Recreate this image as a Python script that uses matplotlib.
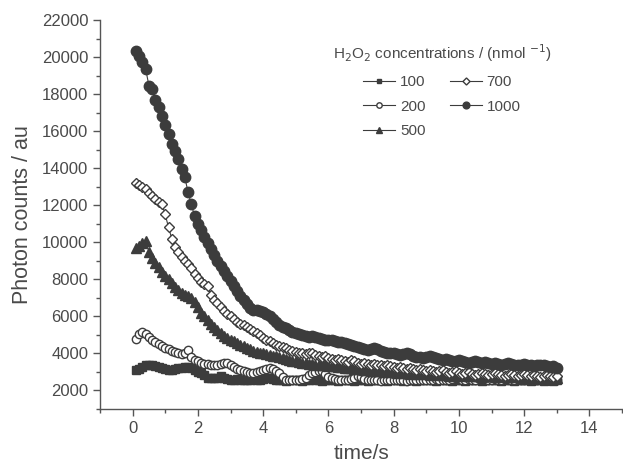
import numpy as np
import matplotlib
matplotlib.use("Agg")
import matplotlib.pyplot as plt

plt.rcParams['font.family'] = ['Liberation Sans', 'DejaVu Sans']

time_s = np.round(np.arange(1, 131) * 0.1, 1)

c100 = [3100, 3150, 3250, 3350, 3400, 3400, 3300, 3250, 3200, 3150,
        3100, 3100, 3150, 3200, 3200, 3250, 3250, 3200, 3100, 3000,
        2950, 2850, 2700, 2650, 2650, 2700, 2800, 2700, 2600, 2550,
        2550, 2600, 2550, 2550, 2550, 2550, 2600, 2550, 2550, 2600,
        2650, 2650, 2600, 2550, 2550, 2550, 2500, 2550, 2550, 2550,
        2550, 2500, 2550, 2550, 2600, 2550, 2550, 2500, 2550, 2550,
        2550, 2550, 2500, 2550, 2550, 2550, 2550, 2500, 2550, 2550,
        2550, 2500, 2550, 2550, 2550, 2550, 2550, 2500, 2550, 2550,
        2550, 2550, 2500, 2550, 2550, 2550, 2500, 2550, 2550, 2550,
        2550, 2550, 2500, 2550, 2550, 2550, 2550, 2500, 2550, 2550,
        2550, 2500, 2550, 2550, 2550, 2550, 2500, 2550, 2550, 2550,
        2550, 2550, 2500, 2550, 2550, 2550, 2500, 2550, 2550, 2550,
        2550, 2500, 2550, 2550, 2550, 2500, 2550, 2550, 2500, 2550]

c200 = [4800, 5050, 5150, 5050, 4900, 4750, 4600, 4500, 4400, 4300,
        4250, 4150, 4100, 4000, 3950, 4050, 4200, 3800, 3650, 3600,
        3500, 3450, 3450, 3400, 3350, 3400, 3450, 3500, 3500, 3400,
        3250, 3150, 3100, 3050, 3000, 2950, 2950, 3000, 3050, 3100,
        3150, 3200, 3150, 3050, 2950, 2750, 2550, 2550, 2550, 2550,
        2550, 2600, 2700, 2850, 2950, 3000, 3050, 3050, 2900, 2750,
        2700, 2600, 2550, 2550, 2550, 2550, 2600, 2700, 2800, 2750,
        2600, 2550, 2550, 2550, 2550, 2500, 2550, 2550, 2550, 2550,
        2550, 2550, 2550, 2500, 2550, 2550, 2550, 2550, 2550, 2550,
        2550, 2550, 2600, 2550, 2550, 2550, 2550, 2600, 2700, 2650,
        2550, 2550, 2600, 2550, 2550, 2650, 2700, 2600, 2550, 2550,
        2600, 2550, 2550, 2600, 2650, 2550, 2550, 2600, 2550, 2550,
        2600, 2650, 2550, 2550, 2600, 2550, 2550, 2600, 2550, 2550]

c500 = [9700, 9800, 9950, 10050, 9500, 9150, 8900, 8650, 8400, 8200,
        8000, 7800, 7600, 7400, 7250, 7150, 7100, 7000, 6800, 6500,
        6200, 6000, 5800, 5600, 5400, 5250, 5100, 4950, 4850, 4750,
        4650, 4550, 4450, 4400, 4300, 4250, 4150, 4100, 4050, 4000,
        3950, 3900, 3850, 3850, 3800, 3750, 3700, 3650, 3600, 3600,
        3550, 3500, 3500, 3450, 3450, 3400, 3400, 3350, 3350, 3300,
        3300, 3300, 3250, 3250, 3200, 3200, 3200, 3150, 3150, 3150,
        3100, 3100, 3100, 3050, 3050, 3050, 3000, 3000, 3050, 3000,
        2950, 3000, 2950, 2950, 2900, 2950, 2900, 2900, 2950, 2900,
        2850, 2900, 2850, 2900, 2850, 2850, 2800, 2850, 2800, 2850,
        2800, 2850, 2800, 2800, 2850, 2800, 2750, 2800, 2850, 2800,
        2750, 2800, 2750, 2800, 2750, 2750, 2800, 2750, 2700, 2750,
        2800, 2750, 2700, 2750, 2700, 2750, 2700, 2700, 2750, 2700]

c700 = [13200, 13100, 13000, 12850, 12650, 12500, 12350, 12200, 12050, 11500,
        10800, 10200, 9750, 9450, 9200, 9000, 8850, 8600, 8300, 8050,
        7850, 7750, 7650, 7150, 6900, 6700, 6500, 6300, 6150, 6000,
        5850, 5700, 5600, 5550, 5450, 5300, 5200, 5100, 5000, 4850,
        4750, 4650, 4550, 4450, 4400, 4350, 4300, 4200, 4150, 4100,
        4050, 4000, 3950, 4050, 4000, 3900, 3850, 3800, 3850, 3750,
        3700, 3650, 3700, 3650, 3600, 3550, 3650, 3600, 3500, 3450,
        3500, 3450, 3400, 3450, 3400, 3350, 3300, 3350, 3300, 3250,
        3200, 3250, 3200, 3150, 3200, 3150, 3100, 3150, 3100, 3050,
        3100, 3050, 3000, 3050, 3100, 3000, 2950, 3000, 3050, 2950,
        2900, 2950, 3000, 2900, 2850, 2900, 2950, 2900, 2850, 2900,
        2950, 2900, 2850, 2800, 2850, 2900, 2850, 2800, 2850, 2900,
        2850, 2800, 2850, 2800, 2750, 2800, 2850, 2800, 2750, 2800]

c1000 = [20300, 20050, 19750, 19350, 18450, 18250, 17700, 17300, 16800, 16350,
         15850, 15300, 14950, 14500, 13950, 13500, 12700, 12050, 11400, 11000,
         10650, 10300, 9950, 9650, 9300, 9000, 8700, 8450, 8200, 7900,
         7650, 7350, 7100, 6900, 6650, 6450, 6350, 6350, 6300, 6250,
         6150, 6000, 5850, 5700, 5550, 5450, 5350, 5250, 5150, 5100,
         5050, 5000, 4950, 4900, 4950, 4900, 4850, 4800, 4750, 4700,
         4700, 4650, 4600, 4600, 4550, 4500, 4450, 4400, 4350, 4300,
         4250, 4200, 4250, 4300, 4250, 4150, 4100, 4050, 4000, 4000,
         3950, 3900, 3950, 4000, 3950, 3850, 3800, 3800, 3750, 3800,
         3850, 3800, 3750, 3700, 3650, 3700, 3650, 3600, 3600, 3650,
         3600, 3550, 3500, 3550, 3600, 3550, 3500, 3550, 3500, 3450,
         3500, 3450, 3400, 3450, 3500, 3450, 3400, 3350, 3400, 3450,
         3400, 3350, 3300, 3350, 3400, 3350, 3300, 3250, 3300, 3200]

labels = ['100', '200', '500', '700', '1000']
series = [c100, c200, c500, c700, c1000]

dark = '#3c3c3c'
text_c = '#4a4a4a'
styles = [
    dict(marker='s', ms=5.5, mfc=dark, mec=dark),
    dict(marker='o', ms=6.0, mfc='white', mec=dark, mew=1.0),
    dict(marker='^', ms=7.5, mfc=dark, mec=dark),
    dict(marker='D', ms=5.5, mfc='white', mec=dark, mew=1.0),
    dict(marker='o', ms=7.5, mfc=dark, mec=dark),
]

fig = plt.figure(figsize=(6.23, 4.66), dpi=100)
ax = fig.add_axes([100/623, 57/466, 522/623, 389/466])

for lab, vals, st in zip(labels, series, styles):
    ax.plot(time_s, vals, color=dark, lw=0.8, label=lab, **st)

ax.set_xlim(-1, 15)
ax.set_ylim(1000, 22000)
ax.set_xticks(np.arange(0, 15, 2))
ax.set_xticks(np.arange(-1, 16, 1), minor=True)
ax.set_yticks(np.arange(2000, 22001, 2000))
ax.set_yticks(np.arange(1000, 22001, 1000), minor=True)

for side in ['top', 'right']:
    ax.spines[side].set_visible(False)
for side in ['left', 'bottom']:
    ax.spines[side].set_color('#555555')
    ax.spines[side].set_linewidth(1.0)

ax.tick_params(axis='both', which='major', direction='out', length=5,
               color='#555555', labelcolor=text_c, labelsize=12, width=1)
ax.tick_params(axis='both', which='minor', direction='out', length=3,
               color='#555555', width=1)

ax.set_xlabel('time/s', fontsize=15, color=text_c, labelpad=6)
ax.set_ylabel('Photon counts / au', fontsize=15.5, color=text_c, labelpad=6)

leg = ax.legend(ncol=2, loc='upper left',
                bbox_to_anchor=(325/623, 1 - 35/466),
                bbox_transform=fig.transFigure,
                frameon=False, fontsize=11, markerscale=0.65,
                title='H$_2$O$_2$ concentrations / (nmol $^{-1}$)',
                title_fontsize=11, handlelength=2.1, handletextpad=0.3,
                columnspacing=1.6, labelspacing=0.7, borderpad=0)
leg.get_title().set_color(text_c)
for t in leg.get_texts():
    t.set_color(text_c)

fig.savefig('out.png', dpi=100)
